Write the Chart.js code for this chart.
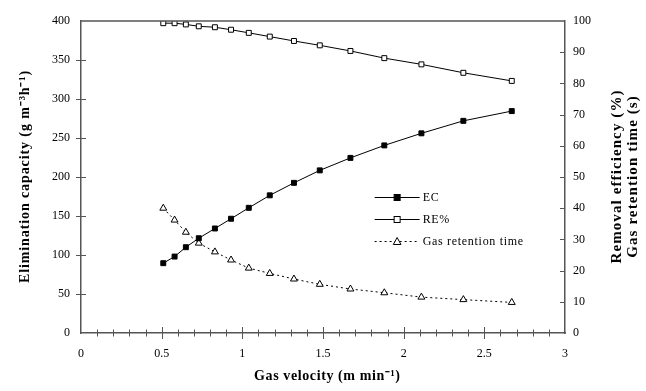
<!DOCTYPE html>
<html>
<head>
<meta charset="utf-8">
<script src="https://cdn.jsdelivr.net/npm/chart.js@4/dist/chart.umd.min.js"></script>
<style>
  body { margin: 0; background: #fff; }
</style>
</head>
<body>
<canvas id="ecChart" width="646" height="391"></canvas>
<script>
const gasVelocity = [0.51, 0.58, 0.65, 0.73, 0.83, 0.93, 1.04, 1.17, 1.32, 1.48, 1.67, 1.88, 2.11, 2.37, 2.67];
const ecValues = [89.5, 98, 110, 121.5, 134, 146.5, 160.5, 176.5, 192.5, 208.5, 224.5, 240.5, 256, 272, 284.5];
const reValues = [99.3, 99.3, 98.9, 98.3, 98.0, 97.2, 96.2, 95.0, 93.6, 92.2, 90.4, 88.1, 86.1, 83.4, 80.8];
const retentionTime = [40.0, 36.2, 32.3, 28.8, 26.0, 23.4, 20.8, 19.1, 17.3, 15.6, 14.1, 12.9, 11.5, 10.7, 9.8];
const legendLabels = ["EC", "RE%", "Gas retention time"];
const xTitle = "Gas velocity (m min\u207B\u00B9)";
const yTitle = "Elimination capacity (g m\u207B\u00B3h\u207B\u00B9)";
const y2Title = ["Removal efficiency (%)", "Gas retention time (s)"];

const serif = "'Liberation Serif', 'Times New Roman', serif";
const axisColor = "#555";

function toPoints(ys) {
  return gasVelocity.map((x, i) => ({ x: x, y: ys[i] }));
}

function spacedText(ctx, text, x, y, rot, font, spacing) {
  ctx.save();
  ctx.font = font;
  ctx.letterSpacing = spacing + "px";
  ctx.textAlign = "center";
  ctx.textBaseline = "middle";
  ctx.translate(x, y);
  ctx.rotate(rot);
  ctx.fillText(text, spacing / 2, 0);
  ctx.restore();
}

// ticks crossing the axes, top frame line, axis titles and legend
const extrasPlugin = {
  id: "extras",
  afterDraw(chart) {
    const ctx = chart.ctx;
    const area = chart.chartArea;
    const xs = chart.scales.x;
    const y1 = chart.scales.y;
    const y2 = chart.scales.y2;
    ctx.save();
    ctx.strokeStyle = axisColor;
    ctx.lineWidth = 1.5;
    ctx.beginPath();
    ctx.moveTo(area.left, area.top);
    ctx.lineTo(area.right, area.top);
    ctx.stroke();

    ctx.lineWidth = 1;
    ctx.beginPath();
    for (let i = 1; i < 30; i++) {
      const px = Math.round(xs.getPixelForValue(i / 10)) + 0.5;
      const len = i % 5 === 0 ? 6 : 3.5;
      ctx.moveTo(px, area.bottom - len);
      ctx.lineTo(px, area.bottom + len);
    }
    for (let v = 50; v < 400; v += 50) {
      const py = Math.round(y1.getPixelForValue(v)) + 0.5;
      ctx.moveTo(area.left - 5, py);
      ctx.lineTo(area.left + 5, py);
    }
    for (let v = 10; v < 100; v += 10) {
      const py = Math.round(y2.getPixelForValue(v)) + 0.5;
      ctx.moveTo(area.right - 5, py);
      ctx.lineTo(area.right, py);
    }
    ctx.stroke();

    // axis titles
    ctx.fillStyle = "#000";
    const midY = (area.top + area.bottom) / 2;
    const midX = (area.left + area.right) / 2;
    spacedText(ctx, xTitle, midX + 4, 376, 0, "bold 14px " + serif, 0.6);
    spacedText(ctx, yTitle, 25, midY, -Math.PI / 2, "bold 14px " + serif, 0.9);
    spacedText(ctx, y2Title[0], 617, midY, -Math.PI / 2, "bold 15px " + serif, 1.1);
    spacedText(ctx, y2Title[1], 633, midY, -Math.PI / 2, "bold 15px " + serif, 1.1);

    // legend
    const lx = xs.getPixelForValue(1.82);
    const lw = 45;
    const rows = [197, 219, 241];
    ctx.font = "12px " + serif;
    ctx.letterSpacing = "0.7px";
    ctx.textAlign = "left";
    ctx.textBaseline = "middle";
    chart.data.datasets.forEach((ds, i) => {
      const ly = rows[i] + 0.5;
      ctx.strokeStyle = "#000";
      ctx.lineWidth = 1;
      ctx.setLineDash(ds.borderDash || []);
      ctx.beginPath();
      ctx.moveTo(lx, ly);
      ctx.lineTo(lx + lw, ly);
      ctx.stroke();
      ctx.setLineDash([]);
      const cx = lx + lw / 2;
      ctx.fillStyle = ds.pointBackgroundColor;
      if (ds.pointStyle === "triangle") {
        ctx.beginPath();
        ctx.moveTo(cx, ly - 4);
        ctx.lineTo(cx + 3.8, ly + 3);
        ctx.lineTo(cx - 3.8, ly + 3);
        ctx.closePath();
        ctx.fill();
        ctx.stroke();
      } else {
        ctx.fillRect(cx - 3, ly - 3, 6, 6);
        ctx.strokeRect(cx - 3, ly - 3, 6, 6);
      }
      ctx.fillStyle = "#000";
      ctx.fillText(legendLabels[i], lx + lw + 3, ly);
    });
    ctx.restore();
  }
};

new Chart("ecChart", {
  type: "scatter",
  data: {
    datasets: [
      {
        label: legendLabels[0],
        data: toPoints(ecValues),
        yAxisID: "y",
        showLine: true,
        borderColor: "#000",
        borderWidth: 1,
        pointStyle: "rect",
        pointRadius: 3.5,
        pointBackgroundColor: "#000",
        pointBorderColor: "#000",
        pointBorderWidth: 1
      },
      {
        label: legendLabels[1],
        data: toPoints(reValues),
        yAxisID: "y2",
        showLine: true,
        borderColor: "#000",
        borderWidth: 1,
        pointStyle: "rect",
        pointRadius: 3.5,
        pointBackgroundColor: "#fff",
        pointBorderColor: "#000",
        pointBorderWidth: 1
      },
      {
        label: legendLabels[2],
        data: toPoints(retentionTime),
        yAxisID: "y2",
        showLine: true,
        borderColor: "#000",
        borderWidth: 1,
        borderDash: [2, 3],
        pointStyle: "triangle",
        pointRadius: 4,
        pointBackgroundColor: "#fff",
        pointBorderColor: "#000",
        pointBorderWidth: 1
      }
    ]
  },
  options: {
    responsive: false,
    animation: false,
    layout: { padding: { top: 21, left: 0, right: 0, bottom: 0 } },
    plugins: { legend: { display: false }, tooltip: { enabled: false } },
    scales: {
      x: {
        type: "linear",
        min: 0,
        max: 3,
        afterFit(scale) { scale.height = 58; },
        grid: { display: false, drawTicks: false },
        border: { display: true, color: axisColor, width: 1.5 },
        ticks: {
          stepSize: 0.5,
          padding: 14,
          color: "#000",
          font: { family: serif, size: 12 },
          callback: (v) => String(Math.round(v * 10) / 10)
        }
      },
      y: {
        position: "left",
        min: 0,
        max: 400,
        afterFit(scale) { scale.width = 81; },
        grid: { display: false, drawTicks: false },
        border: { display: true, color: axisColor, width: 1.5 },
        ticks: { stepSize: 50, padding: 11, color: "#000", font: { family: serif, size: 12 } }
      },
      y2: {
        position: "right",
        min: 0,
        max: 100,
        afterFit(scale) { scale.width = 81; },
        grid: { display: false, drawTicks: false },
        border: { display: true, color: axisColor, width: 1.5 },
        ticks: { stepSize: 10, padding: 8, color: "#000", font: { family: serif, size: 12 } }
      }
    }
  },
  plugins: [extrasPlugin]
});
</script>
</body>
</html>
